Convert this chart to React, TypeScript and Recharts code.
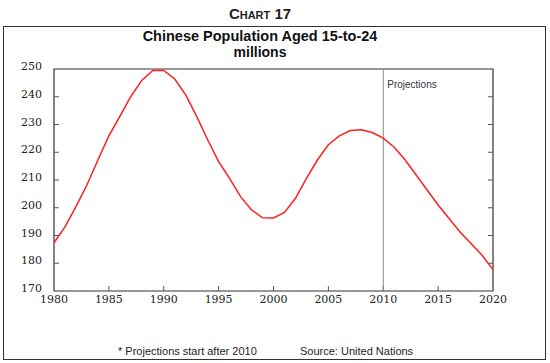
import React from 'react';
import { LineChart, Line, XAxis, YAxis, ReferenceLine, ReferenceArea } from 'recharts';

// Chinese population aged 15-24, millions (UN; projections after 2010)
const years = [
  1980, 1981, 1982, 1983, 1984, 1985, 1986, 1987, 1988, 1989,
  1990, 1991, 1992, 1993, 1994, 1995, 1996, 1997, 1998, 1999,
  2000, 2001, 2002, 2003, 2004, 2005, 2006, 2007, 2008, 2009,
  2010, 2011, 2012, 2013, 2014, 2015, 2016, 2017, 2018, 2019, 2020,
];
const population = [
  187.4, 193.1, 200.4, 208.2, 217.2, 225.9, 232.9, 240.1, 245.9, 249.5,
  249.5, 246.4, 240.7, 232.9, 224.5, 216.6, 210.6, 204.0, 199.2, 196.4,
  196.3, 198.3, 203.4, 210.6, 217.2, 222.7, 225.9, 227.8, 228.1, 227.1,
  225.1, 221.8, 217.2, 211.8, 206.4, 201.0, 196.1, 191.3, 187.1, 182.9, 177.7,
];
const xTicks = [1980, 1985, 1990, 1995, 2000, 2005, 2010, 2015, 2020];
const yTicks = [170, 180, 190, 200, 210, 220, 230, 240, 250];

const data = years.map((year, i) => ({ year, value: population[i] }));

const X0 = 1980, X1 = 2020, Y0 = 170, Y1 = 250;
// inward tick length, in axis units (~5px)
const xTickLen = 0.45;
const yTickLen = 1.8;

const axisFont = { fontFamily: 'DejaVu Serif', fontSize: 11, fill: '#222' };
const frame = '#333';
const tickColor = '#555';

const BottomTick = (props: any) => {
  const { x, y, payload } = props;
  return <text x={x} y={y + 12} textAnchor="middle" {...axisFont}>{payload.value}</text>;
};

const LeftTick = (props: any) => {
  const { x, y, payload } = props;
  return <text x={x - 12} y={y + 1} textAnchor="end" {...axisFont}>{payload.value}</text>;
};

const RightTick = (props: any) => {
  const { x, y, payload } = props;
  return <text x={x + 6} y={y + 1} textAnchor="start" {...axisFont}>{payload.value}</text>;
};

const ProjLabel = (props: any) => {
  const { viewBox } = props;
  return (
    <text x={viewBox.x + 4} y={viewBox.y + 19} fontFamily="Liberation Sans" fontSize={10} fill="#333">
      Projections
    </text>
  );
};

export default function App() {
  const innerX = xTicks.filter((t) => t > X0 && t < X1);
  const innerY = yTicks.filter((t) => t > Y0 && t < Y1);
  return (
    <div style={{ position: 'absolute', left: 0, top: 0, width: 550, height: 363, background: '#fff', fontFamily: 'Liberation Sans' }}>
      <div style={{ position: 'absolute', left: 0, width: 520, top: 5, textAlign: 'center', fontWeight: 'bold', fontSize: 15, fontVariant: 'small-caps', color: '#222' }}>
        Chart 17
      </div>
      <div style={{ position: 'absolute', left: 3, top: 26, width: 541, height: 332, border: '1.5px solid #333' }} />
      <div style={{ position: 'absolute', left: 0, width: 520, top: 28, textAlign: 'center', fontWeight: 'bold', fontSize: 14.5, lineHeight: '16px', color: '#111' }}>
        Chinese Population Aged 15-to-24
        <br />
        <span style={{ fontSize: 14 }}>millions</span>
      </div>
      <div style={{ position: 'absolute', left: 118, top: 345, fontSize: 11, color: '#222' }}>
        * Projections start after 2010
      </div>
      <div style={{ position: 'absolute', left: 300, top: 345, fontSize: 11, color: '#222' }}>
        Source: United Nations
      </div>
      <div style={{ position: 'absolute', left: 0, top: 0 }}>
        <LineChart width={550} height={363} data={data} margin={{ top: 69, right: 0, bottom: 0, left: 0 }}>
          <XAxis
            dataKey="year"
            type="number"
            domain={[X0, X1]}
            ticks={xTicks}
            interval={0}
            height={72}
            tickSize={0}
            tickMargin={0}
            tickLine={false}
            axisLine={false}
            tick={<BottomTick />}
          />
          <YAxis
            yAxisId="left"
            domain={[Y0, Y1]}
            ticks={yTicks}
            interval={0}
            width={54}
            tickSize={0}
            tickMargin={0}
            tickLine={false}
            axisLine={false}
            tick={<LeftTick />}
          />
          <YAxis
            yAxisId="right"
            orientation="right"
            domain={[Y0, Y1]}
            ticks={yTicks}
            interval={0}
            width={57}
            tickSize={0}
            tickMargin={0}
            tickLine={false}
            axisLine={false}
            tick={<RightTick />}
          />
          <ReferenceArea
            yAxisId="left"
            x1={X0}
            x2={X1}
            y1={Y0}
            y2={Y1}
            fill="none"
            fillOpacity={0}
            stroke={frame}
            strokeWidth={1.2}
          />
          {innerX.map((t) => (
            <ReferenceLine
              key={`xt${t}`}
              yAxisId="left"
              segment={[{ x: t, y: Y0 }, { x: t, y: Y0 + yTickLen }]}
              stroke={tickColor}
              strokeWidth={1}
            />
          ))}
          {innerY.map((t) => (
            <ReferenceLine
              key={`yl${t}`}
              yAxisId="left"
              segment={[{ x: X0, y: t }, { x: X0 + xTickLen, y: t }]}
              stroke={tickColor}
              strokeWidth={1}
            />
          ))}
          {innerY.map((t) => (
            <ReferenceLine
              key={`yr${t}`}
              yAxisId="left"
              segment={[{ x: X1 - xTickLen, y: t }, { x: X1, y: t }]}
              stroke={tickColor}
              strokeWidth={1}
            />
          ))}
          <ReferenceLine yAxisId="left" x={2010} stroke="#888" strokeWidth={1} label={<ProjLabel />} />
          <Line
            yAxisId="left"
            type="linear"
            dataKey="value"
            stroke="#ff1f1f"
            strokeWidth={1.5}
            dot={false}
            isAnimationActive={false}
          />
        </LineChart>
      </div>
    </div>
  );
}
